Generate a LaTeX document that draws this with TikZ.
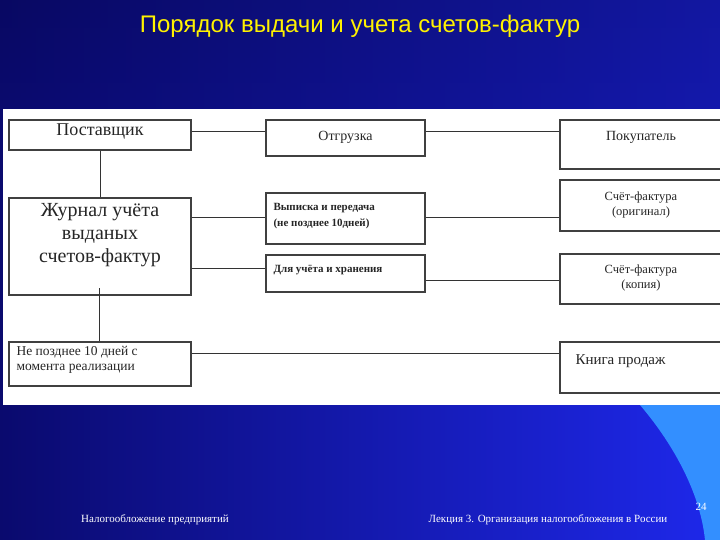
\documentclass[tikz,border=0pt]{standalone}
\usepackage{fontspec}
\setmainfont{Liberation Serif}
\newfontfamily\arialf{Liberation Sans}
\definecolor{navy}{RGB}{10,10,110}
\definecolor{brblue}{RGB}{30,40,235}
\begin{document}
\begin{tikzpicture}[x=1pt,y=-1pt,
 bx/.style={draw=black!75,line width=1.3pt,fill=white,inner sep=0pt},
 ln/.style={draw=black!80,line width=1pt},
 every node/.append style={text=black!85}]
\shade[left color=navy,right color=brblue] (0,0) rectangle (720,540);
\shade[top color=navy!80!black,bottom color=navy,opacity=0.5] (0,0) rectangle (720,110);
\fill[blue!55!cyan!80!white] (640,405) .. controls (670,440) and (700,490) .. (705,540) -- (720,540) -- (720,405) -- cycle;
\useasboundingbox (0,0) rectangle (720,540);
\node[text=yellow,font=\arialf\fontsize{24}{28}\selectfont,anchor=center] (t) at (360,26) {Порядок выдачи и учета счетов-фактур};
\fill[white] (3,109) rectangle (720,405);
% boxes
\node[bx,minimum width=182,minimum height=30] (p) at (100,135) {};
\node[font=\fontsize{18}{19}\selectfont] at (100,131) {Поставщик};
\node[bx,minimum width=182,minimum height=97] (j) at (100,246.5) {};
\node[font=\fontsize{20}{23}\selectfont,align=center] at (100,235) {Журнал учёта\\выданых\\счетов-фактур};
\node[bx,minimum width=182,minimum height=44] (n) at (100,364) {};
\node[font=\fontsize{13.5}{15}\selectfont,align=left,anchor=north west] at (13,343) {Не позднее 10 дней с\\момента реализации};
\node[bx,minimum width=159,minimum height=36] (o) at (345.5,138) {};
\node[font=\fontsize{14}{15}\selectfont] at (345.5,137) {Отгрузка};
\node[bx,minimum width=159,minimum height=51] (v) at (345.5,218.5) {};
\node[font=\bfseries\fontsize{11}{16}\selectfont,align=left,anchor=north west] at (270,200) {Выписка и передача\\(не позднее 10дней)};
\node[bx,minimum width=159,minimum height=37] (d) at (345.5,273.5) {};
\node[font=\bfseries\fontsize{11}{13}\selectfont,anchor=west] at (270,270) {Для учёта и хранения};
\node[bx,minimum width=162,minimum height=49] (b) at (641,144.5) {};
\node[font=\fontsize{14}{15}\selectfont] at (641,137) {Покупатель};
\node[bx,minimum width=162,minimum height=51] (s1) at (641,205.5) {};
\node[font=\fontsize{12.5}{15}\selectfont,align=center] at (641,205) {Счёт-фактура\\(оригинал)};
\node[bx,minimum width=162,minimum height=50] (s2) at (641,279) {};
\node[font=\fontsize{12.5}{15}\selectfont,align=center] at (641,278) {Счёт-фактура\\(копия)};
\node[bx,minimum width=162,minimum height=51] (k) at (641,367.5) {};
\node[font=\fontsize{15}{16}\selectfont,anchor=west] at (572,361) {Книга продаж};
% connectors
\draw[ln] (p.east|-0,132) -- (o.west|-0,132);
\draw[ln] (o.east|-0,132) -- (b.west|-0,132);
\draw[ln] (p.south) -- (j.north);
\draw[ln] (j.east|-0,218) -- (v.west|-0,218);
\draw[ln] (v.east|-0,218) -- (s1.west|-0,218);
\draw[ln] (j.east|-0,268) -- (d.west|-0,268);
\draw[ln] (d.east|-0,280) -- (s2.west|-0,280);
\draw[ln] (99,288) -- (n.north-|99,0);
\draw[ln] (n.east|-0,353) -- (k.west|-0,353);
% footer
\node[text=white,font=\fontsize{11}{12}\selectfont] (f1) at (155,520) {Налогообложение предприятий};
\node[text=white,font=\fontsize{11}{12}\selectfont] (f2) at (548,520) {Лекция 3. Организация налогообложения в России};
\node[text=white,font=\fontsize{11}{12}\selectfont] (f3) at (701,507) {24};
\end{tikzpicture}
\end{document}
